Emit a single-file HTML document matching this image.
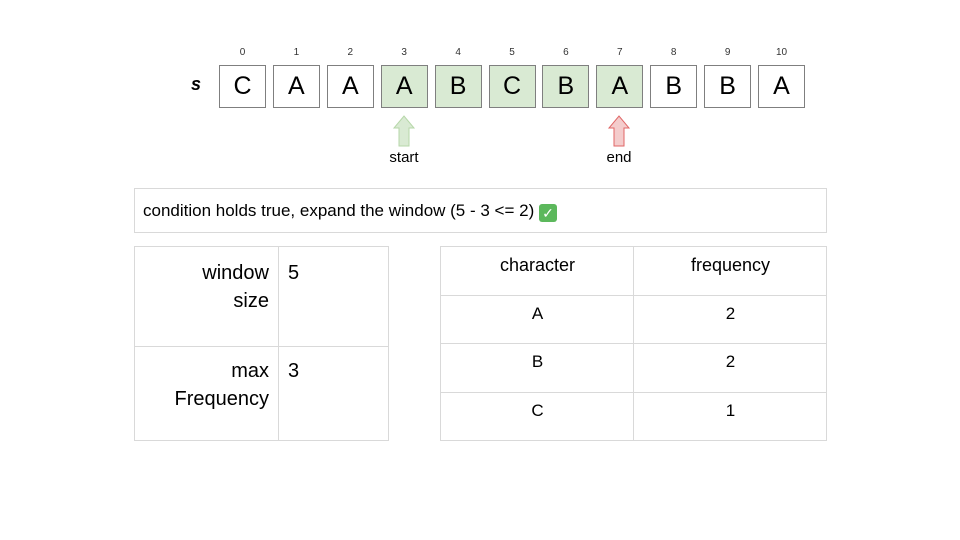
<!DOCTYPE html>
<html><head><meta charset="utf-8"><style>
body{margin:0;width:960px;height:540px;background:#fff;position:relative;overflow:hidden;font-family:"Liberation Sans",sans-serif;color:#000}
.a{position:absolute;box-sizing:border-box}
.cell{border:1px solid #7f7f7f;background:#fff;font-size:25px;text-align:center;line-height:41px}
.hl{background:#d9ead3}
.idx{font-size:10px;color:#333;text-align:center;width:47px}
.t{border:1px solid #d9d9d9;font-size:19px}
</style></head><body>
<div class="a" style="left:191px;top:74px;font-size:18px;font-style:italic;font-weight:bold">s</div>
<div id="arr"></div>
<svg class="a" style="left:0;top:0" width="960" height="540">
<path d="M399,146 V128 H394 L404,116 L414,128 H409 V146 Z" fill="#d9ead3" stroke="#b6d7a8"/>
<path d="M614,146 V128 H609 L619,116 L629,128 H624 V146 Z" fill="#f4cccc" stroke="#e06666"/>
</svg>
<div class="a" style="left:374px;top:149px;width:60px;text-align:center;font-size:15px">start</div>
<div class="a" style="left:589px;top:149px;width:60px;text-align:center;font-size:15px">end</div>
<div class="a t" style="left:134px;top:188px;width:693px;height:45px;padding:12px 0 0 8px;font-size:17px">condition holds true, expand the window (5 - 3 &lt;= 2) <span style="display:inline-block;width:18px;height:18px;background:#5cb85c;border-radius:3px;color:#fff;text-align:center;line-height:18px;font-size:14px;vertical-align:-2px">✓</span></div>
<div class="a t" style="left:134px;top:246px;width:255px;height:195px">
<div class="a" style="left:143px;top:0;width:1px;height:193px;background:#d9d9d9"></div>
<div class="a" style="left:0;top:99px;width:253px;height:1px;background:#d9d9d9"></div>
<div class="a" style="left:0;top:12px;width:134px;text-align:right;font-size:20px;line-height:28px">window<br>size</div>
<div class="a" style="left:153px;top:12px;font-size:20px;line-height:28px">5</div>
<div class="a" style="left:0;top:110px;width:134px;text-align:right;font-size:20px;line-height:28px">max<br>Frequency</div>
<div class="a" style="left:153px;top:110px;font-size:20px;line-height:28px">3</div>
</div>
<div class="a t" style="left:440px;top:246px;width:387px;height:195px">
<div class="a" style="left:192px;top:0;width:1px;height:193px;background:#d9d9d9"></div>
<div class="a" style="left:0;top:48px;width:385px;height:1px;background:#d9d9d9"></div>
<div class="a" style="left:0;top:96px;width:385px;height:1px;background:#d9d9d9"></div>
<div class="a" style="left:0;top:145px;width:385px;height:1px;background:#d9d9d9"></div>
<div id="ft"></div>
</div>
<script>
const chars=["C","A","A","A","B","C","B","A","B","B","A"];
const hlStart=3, hlEnd=7;
const freqChars=["A","B","C"];
const freqVals=["2","2","1"];
const root=document.getElementById('arr');
chars.forEach((c,i)=>{
  const x=219+i*53.9;
  const idx=document.createElement('div');
  idx.className='a idx';idx.style.left=x+'px';idx.style.top='47px';idx.textContent=i;
  
  
  root.appendChild(idx);
  const d=document.createElement('div');
  d.className='a cell'+(i>=hlStart&&i<=hlEnd?' hl':'');
  d.style.left=x+'px';d.style.top='65px';d.style.width='47px';d.style.height='43px';
  d.textContent=c;
  
  
  root.appendChild(d);
});
const ft=document.getElementById('ft');
const rows=[["character","frequency"]].concat(freqChars.map((c,i)=>[c,freqVals[i]]));
rows.forEach((r,ri)=>{
  r.forEach((txt,ci)=>{
    const d=document.createElement('div');
    d.className='a';
    d.style.left=(ci*193)+'px';d.style.width='193px';d.style.textAlign='center';
    d.style.top=(ri*48.5+8)+'px';d.style.fontSize=ri===0?'18px':'17px';
    d.textContent=txt;
    
    
    ft.appendChild(d);
  });
});
</script>
</body></html>
